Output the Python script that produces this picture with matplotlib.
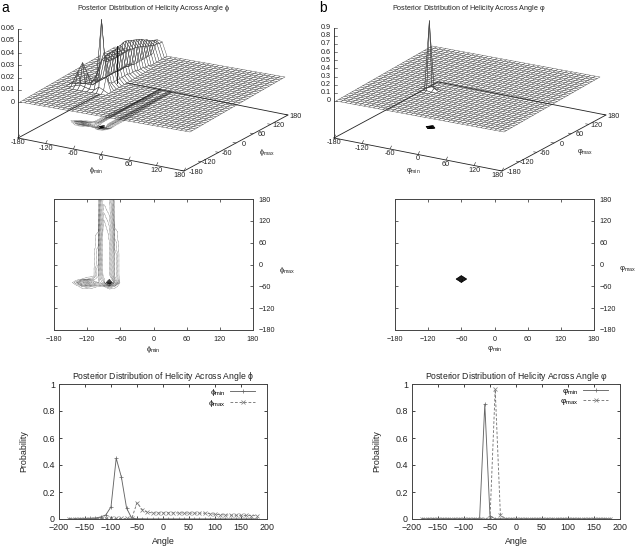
import matplotlib
matplotlib.use('Agg')
import matplotlib.pyplot as plt
import numpy as np
from matplotlib.collections import PolyCollection

plt.rcParams['font.family'] = ['Liberation Sans', 'DejaVu Sans']
plt.rcParams['mathtext.fontset'] = 'custom'
plt.rcParams['mathtext.rm'] = 'Liberation Sans'
plt.rcParams['mathtext.it'] = 'Liberation Sans:italic'
plt.rcParams['mathtext.default'] = 'rm'

W, H = 638, 547

# --- line plot data (probability per 10 degree bin) ---
angles = list(range(-180, 190, 10))
phi_min_prob = [0.001, 0.001, 0.002, 0.003, 0.005, 0.007, 0.015, 0.03, 0.09, 0.45,
                0.31, 0.08, 0.005, 0.002, 0.002, 0.001, 0.001, 0.001, 0.001, 0.001,
                0.001, 0.001, 0.001, 0.001, 0.001, 0.001, 0.001, 0.001, 0.001, 0.001,
                0.001, 0.001, 0.001, 0.001, 0.001, 0.001, 0.001]
phi_max_prob = [0.001, 0.002, 0.002, 0.003, 0.003, 0.003, 0.003, 0.004, 0.004, 0.004,
                0.004, 0.004, 0.005, 0.12, 0.07, 0.05, 0.045, 0.045, 0.045, 0.046,
                0.045, 0.045, 0.045, 0.044, 0.044, 0.043, 0.043, 0.04, 0.035, 0.032,
                0.03, 0.029, 0.028, 0.027, 0.026, 0.025, 0.025]
psi_min_prob = [0.002, 0.002, 0.002, 0.002, 0.002, 0.002, 0.002, 0.002, 0.002, 0.002,
                0.002, 0.003, 0.85, 0.02, 0.002, 0.002, 0.002, 0.002, 0.002, 0.002,
                0.002, 0.002, 0.002, 0.002, 0.002, 0.002, 0.002, 0.002, 0.002, 0.002,
                0.002, 0.002, 0.002, 0.002, 0.002, 0.002, 0.002]
psi_max_prob = [0.002, 0.002, 0.002, 0.002, 0.002, 0.002, 0.002, 0.002, 0.002, 0.002,
                0.002, 0.002, 0.002, 0.002, 0.96, 0.03, 0.002, 0.002, 0.002, 0.002,
                0.002, 0.002, 0.002, 0.002, 0.002, 0.002, 0.002, 0.002, 0.002, 0.002,
                0.002, 0.002, 0.002, 0.002, 0.002, 0.002, 0.002]

# --- joint posterior: non zero columns, starting at phi_max = -60 ---
col_m140 = [0.0, 0.003, 0.0]
col_m130 = [0.002, 0.012, 0.001]
col_m120 = [0.003, 0.02, 0.002]
col_m110 = [0.002, 0.012, 0.003]
col_m100 = [0.001, 0.006, 0.006, 0.004, 0.004, 0.004, 0.003, 0.003, 0.003, 0.003, 0.003, 0.002, 0.002, 0.002,
            0.002, 0.001, 0.001]
col_m90 = [0.001, 0.012, 0.018, 0.022, 0.023, 0.024, 0.024, 0.024, 0.024, 0.025, 0.025, 0.026, 0.026, 0.025,
           0.024, 0.023, 0.022, 0.021, 0.02, 0.018, 0.017, 0.015, 0.014, 0.013, 0.012]
col_m80 = [0.004, 0.058, 0.03, 0.021, 0.021, 0.02, 0.02, 0.02, 0.02, 0.02, 0.02, 0.02, 0.02, 0.019, 0.019,
           0.018, 0.017, 0.016, 0.015, 0.014, 0.013, 0.012, 0.012, 0.011, 0.011]
col_m70 = [0.002, 0.012, 0.006, 0.004, 0.004, 0.004, 0.004, 0.004, 0.004, 0.004, 0.003, 0.003, 0.003, 0.002,
           0.002, 0.002, 0.001, 0.001]
phi_columns = {-140: col_m140, -130: col_m130, -120: col_m120, -110: col_m110,
               -100: col_m100, -90: col_m90, -80: col_m80, -70: col_m70}
phi_levels = [0.001, 0.002, 0.003, 0.0045, 0.006, 0.008, 0.0105, 0.0135, 0.0165, 0.0195,
              0.03, 0.032, 0.034, 0.036, 0.038, 0.04, 0.042, 0.044, 0.046, 0.048, 0.05, 0.052, 0.054, 0.056]
# the stray vertical stroke on the ridge: phi_min, phi_max, height
phi_stroke = (-76, 1, 0.03)

psi_col_m70 = [0.0, 0.0, 0.01]
psi_col_m60 = [0.0, 0.01, 0.85, 0.02]
psi_col_m50 = [0.0, 0.0, 0.03]
psi_columns = {-70: psi_col_m70, -60: psi_col_m60, -50: psi_col_m50}
psi_levels = [0.03, 0.05, 0.07, 0.09, 0.11, 0.13, 0.15, 0.18, 0.21, 0.24, 0.27, 0.3, 0.33, 0.36, 0.39, 0.42,
              0.45, 0.48, 0.51, 0.54, 0.57, 0.6, 0.63, 0.66, 0.69, 0.72, 0.75, 0.78, 0.81]

phi_ticks3d = [-180, -120, -60, 0, 60, 120, 180]
phi_z_ticks = [0, 0.01, 0.02, 0.03, 0.04, 0.05, 0.06]
psi_z_ticks = [0, 0.1, 0.2, 0.3, 0.4, 0.5, 0.6, 0.7, 0.8, 0.9]

TICK_FS = 5.2
GREY = '#444444'
INK = '#222222'
DOTS = (0, (1, 1))


def to_matrix(columns):
    z = np.zeros((len(angles), len(angles)))
    for col, values in columns.items():
        ix = angles.index(col)
        iy0 = angles.index(-60)
        z[iy0:iy0 + len(values), ix] = values
    return z


def px_axes(fig, left, top, right, bottom):
    return fig.add_axes([left / W, 1 - bottom / H, (right - left) / W, (bottom - top) / H])


def corner_map(left, front, right):
    # affine map of the (x, y) plane given three projected corners
    left, front, right = map(np.array, (left, front, right))

    def project(x, y):
        fx = (np.asarray(x, float) + 180) / 360
        fy = (np.asarray(y, float) + 180) / 360
        return (left[0] + fx * (front[0] - left[0]) + fy * (right[0] - front[0]),
                left[1] + fx * (front[1] - left[1]) + fy * (right[1] - front[1]))
    return project


def surface_3d(ax, z, levels, base, plane, z_scale, z_ticks, sym, title, title_x, solid_from=None, stroke=None):
    base_xy = corner_map(*base)
    plane_xy = corner_map(*plane)
    a = np.array(angles)
    X, Y = np.meshgrid(a, a)
    sx, sy = plane_xy(X, Y)
    sy = sy - z * z_scale

    flat, solid, open_cells = [], [], []
    # far cells first: high y, low x
    cells = [(i, j) for i in range(len(a) - 1) for j in range(len(a) - 1)]
    cells.sort(key=lambda c: c[1] - c[0])
    for i, j in cells:
        quad = [(sx[i, j], sy[i, j]), (sx[i, j + 1], sy[i, j + 1]),
                (sx[i + 1, j + 1], sy[i + 1, j + 1]), (sx[i + 1, j], sy[i + 1, j])]
        if z[i:i + 2, j:j + 2].max() == 0:
            flat.append(quad)
        elif solid_from is not None and a[j] >= solid_from:
            solid.append(quad)
        else:
            open_cells.append(quad)
    ax.add_collection(PolyCollection(flat, facecolors='white', edgecolors='#444444', linewidths=0.3, zorder=2))

    # base box and projected contours
    corners = [(-180, -180), (180, -180), (180, 180), (-180, 180), (-180, -180)]
    bx, by = base_xy([c[0] for c in corners], [c[1] for c in corners])
    ax.plot(bx, by, color=INK, lw=0.6, zorder=3)
    cx, cy = base_xy(X, Y)
    ax.contour(cx, cy, z, levels=levels, colors='k', linewidths=0.3, linestyles=[DOTS], zorder=3)
    ax.add_collection(PolyCollection(solid, facecolors='white', edgecolors='#444444', linewidths=0.3, zorder=4))
    ax.add_collection(PolyCollection(open_cells, facecolors='none', edgecolors='#444444', linewidths=0.3, zorder=5))
    if stroke is not None:
        qx, qy = plane_xy(stroke[0], stroke[1])
        ax.plot([qx, qx], [qy, qy - stroke[2] * z_scale], color='k', lw=0.6, zorder=6)

    # tick labels along the base
    for t in phi_ticks3d:
        px, py = base_xy(t, -180)
        ax.plot([px, px + 1.5], [py, py - 3], color=INK, lw=0.4, zorder=3)
        ax.text(px - (4 if t == 180 else 0), py + 4.5, str(t), fontsize=TICK_FS, ha='center', va='center', color=INK)
        px, py = base_xy(180, t)
        ax.plot([px, px - 3], [py, py - 0.5], color=INK, lw=0.4, zorder=3)
        ax.text(px + (12 if t == -180 else 8), py + 1, str(t), fontsize=TICK_FS, ha='center', va='center', color=INK)

    # z axis
    x0, y0 = base_xy(-180, -180)
    _, z0 = plane_xy(-180, -180)
    ztop = z0 - z_ticks[-1] * z_scale
    ax.plot([x0, x0], [y0, ztop], color=INK, lw=0.6, zorder=3)
    for t in z_ticks:
        ypos = z0 - t * z_scale
        ax.plot([x0, x0 + 3], [ypos, ypos], color=INK, lw=0.4, zorder=3)
        ax.text(x0 - 3, ypos, f'{t:g}', fontsize=TICK_FS, ha='right', va='center', color=INK)

    px, py = base_xy(0, -180)
    ax.text(px - 5, py + 16.5, rf'${sym}_{{min}}$', fontsize=TICK_FS, ha='center', va='center', color=INK)
    px, py = base_xy(180, 0)
    ax.text(px + 31, py + 9, rf'${sym}_{{max}}$', fontsize=TICK_FS, ha='center', va='center', color=INK)
    ax.text(title_x, 9, title, fontsize=5.2, ha='center', va='center', color=INK)


def contour_panel(ax, z, levels, sym):
    ax.contour(angles, angles, z, levels=levels, colors='k', linewidths=0.3, linestyles=[DOTS])
    ax.set_xlim(-180, 180)
    ax.set_ylim(-180, 180)
    ax.set_xticks(phi_ticks3d)
    ax.set_yticks(phi_ticks3d)
    ax.tick_params(direction='in', top=True, bottom=True, left=True, right=True, labelleft=False,
                   labelright=True, labelsize=TICK_FS, length=2, width=0.5, pad=4, colors=INK)
    ax.set_xlabel(rf'${sym}_{{min}}$', fontsize=TICK_FS + 0.3, labelpad=1, color=INK)
    ax.yaxis.set_label_position('right')
    ax.set_ylabel(rf'${sym}_{{max}}$', fontsize=TICK_FS + 0.3, rotation=0, color=INK)
    ax.yaxis.set_label_coords(1.17, 0.5)
    for s in ax.spines.values():
        s.set_linewidth(0.7)
        s.set_color(GREY)


def line_panel(ax, ymin, ymax, sym, title):
    ax.plot(angles, ymin, color='#666666', lw=0.65, marker='+', ms=3, mew=0.5, label=rf'${sym}_{{min}}$')
    ax.plot(angles, ymax, color='#777777', lw=0.65, ls='--', dashes=(3, 2), marker='x', ms=3, mew=0.5,
            label=rf'${sym}_{{max}}$')
    ax.set_xlim(-200, 200)
    ax.set_ylim(0, 1)
    ax.set_xticks(range(-200, 201, 50))
    ax.set_yticks([0, 0.2, 0.4, 0.6, 0.8, 1])
    ax.set_yticklabels(['0', '0.2', '0.4', '0.6', '0.8', '1'])
    ax.tick_params(direction='in', top=True, right=True, labelsize=6.4, length=2.5, width=0.6, pad=3,
                   colors=INK)
    ax.set_xlabel('Angle', fontsize=6.4, labelpad=3.5, color=INK)
    ax.set_ylabel('Probability', fontsize=6.4, labelpad=10, color=INK)
    ax.set_title(title, fontsize=6.2, pad=3.5, color=INK)
    ax.legend(loc='upper right', bbox_to_anchor=(0.96, 1.0), frameon=False, fontsize=6, markerfirst=False,
              labelspacing=0.0, handlelength=3.0, handletextpad=0.6, borderaxespad=0.1, borderpad=0.3)
    for s in ax.spines.values():
        s.set_linewidth(0.7)
        s.set_color(GREY)


phi_z = to_matrix(phi_columns)
psi_z = to_matrix(psi_columns)

fig = plt.figure(figsize=(W / 100, H / 100), dpi=100)
over = fig.add_axes([0, 0, 1, 1])
over.set_xlim(0, W)
over.set_ylim(H, 0)
over.axis('off')

surface_3d(over, phi_z, phi_levels, ((18, 138), (184, 171), (288, 115)), ((20, 102), (190, 132), (285, 77)),
           73.4 / 0.06, phi_z_ticks, r'\phi',
           r'Posterior Distribution of Helicity Across Angle $\phi$', 154, solid_from=-80, stroke=phi_stroke)
surface_3d(over, psi_z, psi_levels, ((334, 138), (502, 171), (606, 115)), ((336, 101), (504, 132), (600, 77)),
           73.4 / 0.9, psi_z_ticks, r'\varphi',
           r'Posterior Distribution of Helicity Across Angle $\varphi$', 469)
over.text(1, 8, 'a', fontsize=10, ha='left', va='center')
over.text(319, 8, 'b', fontsize=10, ha='left', va='center')

contour_panel(px_axes(fig, 54, 199, 253, 330), phi_z, phi_levels, r'\phi')
contour_panel(px_axes(fig, 395, 199, 594, 330), psi_z, psi_levels, r'\varphi')

line_panel(px_axes(fig, 59, 384, 267, 519), phi_min_prob, phi_max_prob, r'\phi',
           r'Posterior Distribution of Helicity Across Angle $\phi$')
line_panel(px_axes(fig, 412, 384, 620, 519), psi_min_prob, psi_max_prob, r'\varphi',
           r'Posterior Distribution of Helicity Across Angle $\varphi$')

fig.savefig('out.png', dpi=100)
